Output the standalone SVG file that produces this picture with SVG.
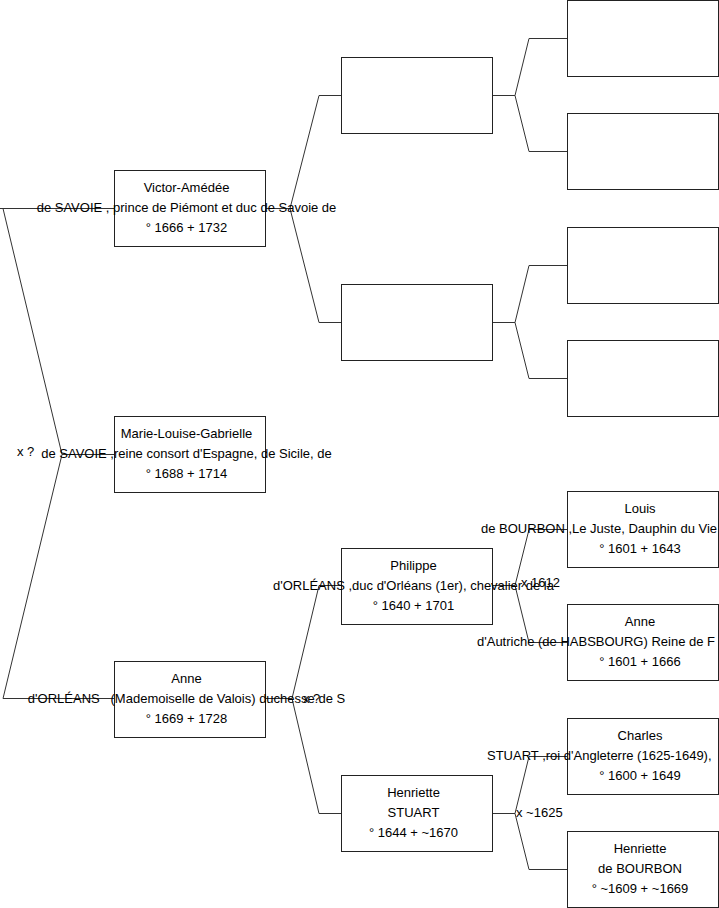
<svg xmlns="http://www.w3.org/2000/svg" width="719" height="908" viewBox="0 0 719 908">
<style>
.bg{fill:#fff}
.box{fill:#fff;stroke:#222;stroke-width:1}
.c{fill:none;stroke:#333;stroke-width:1}
text{font-family:"Liberation Sans",Arial,sans-serif;font-size:13px;fill:#000}
.m{text-anchor:middle}
</style>
<rect class="bg" x="0" y="0" width="719" height="908"/>
<g id="connectors">
<path class="c" d="M0,208.5 H114 M3,208.5 L62,454.5 H114 M62,454.5 L3,698.5 H114"/>
<path class="c" d="M265,208.5 H290 L319,95.5 H341 M290,208.5 L319,322.5 H341"/>
<path class="c" d="M492,95.5 H515 L529,38.5 H567 M515,95.5 L529,151.5 H567"/>
<path class="c" d="M492,322.5 H515 L529,265.5 H567 M515,322.5 L529,378.5 H567"/>
<path class="c" d="M265,698.5 H292 L319,585.5 H341 M292,698.5 L319,813.5 H341"/>
<path class="c" d="M492,585.5 H515 L529,529.5 H567 M515,585.5 L529,642.5 H567"/>
<path class="c" d="M492,813.5 H515 L529,756.5 H567 M515,813.5 L529,869.5 H567"/>
<text x="17" y="456">x ?</text>
<text x="303" y="702.5">x ?</text>
<text x="521" y="587">x 1612</text>
<text x="516" y="816.5">x ~1625</text>
</g>
<g id="n-victor">
<rect class="box" x="114.5" y="170.5" width="151" height="76"/>
<text class="m" x="186.5" y="191.5">Victor-Amédée</text>
<text class="m" x="186.5" y="211.5">de SAVOIE , prince de Piémont et duc de Savoie de</text>
<text class="m" x="186.5" y="231.5">° 1666 + 1732</text>
</g>
<g id="n-marie-louise">
<rect class="box" x="114.5" y="416.5" width="151" height="76"/>
<text class="m" x="186.5" y="437.5">Marie-Louise-Gabrielle</text>
<text class="m" x="186.5" y="457.5">de SAVOIE ,reine consort d'Espagne, de Sicile, de</text>
<text class="m" x="186.5" y="477.5">° 1688 + 1714</text>
</g>
<g id="n-anne">
<rect class="box" x="114.5" y="661.5" width="151" height="76"/>
<text class="m" x="186.5" y="682.5">Anne</text>
<text class="m" x="186.5" y="702.5" xml:space="preserve">d'ORLÉANS   (Mademoiselle de Valois) duchesse de S</text>
<text class="m" x="186.5" y="722.5">° 1669 + 1728</text>
</g>
<g id="n-g2a">
<rect class="box" x="341.5" y="57.5" width="151" height="76"/>
</g>
<g id="n-g2b">
<rect class="box" x="341.5" y="284.5" width="151" height="76"/>
</g>
<g id="n-philippe">
<rect class="box" x="341.5" y="548.5" width="151" height="76"/>
<text class="m" x="413.5" y="569.5">Philippe</text>
<text class="m" x="413.5" y="589.5">d'ORLÉANS ,duc d'Orléans (1er), chevalier de la</text>
<text class="m" x="413.5" y="609.5">° 1640 + 1701</text>
</g>
<g id="n-henriette-stuart">
<rect class="box" x="341.5" y="775.5" width="151" height="76"/>
<text class="m" x="413.5" y="796.5">Henriette</text>
<text class="m" x="413.5" y="816.5">STUART</text>
<text class="m" x="413.5" y="836.5">° 1644 + ~1670</text>
</g>
<g id="n-g3a"><rect class="box" x="567.5" y="0.5" width="151" height="76"/></g>
<g id="n-g3b"><rect class="box" x="567.5" y="113.5" width="151" height="76"/></g>
<g id="n-g3c"><rect class="box" x="567.5" y="227.5" width="151" height="76"/></g>
<g id="n-g3d"><rect class="box" x="567.5" y="340.5" width="151" height="76"/></g>
<g id="n-louis">
<rect class="box" x="567.5" y="491.5" width="151" height="76"/>
<text class="m" x="640" y="512.5">Louis</text>
<text x="481" y="532.5">de BOURBON ,Le Juste, Dauphin du Vie</text>
<text class="m" x="640" y="552.5">° 1601 + 1643</text>
</g>
<g id="n-anne-autriche">
<rect class="box" x="567.5" y="604.5" width="151" height="76"/>
<text class="m" x="640" y="625.5">Anne</text>
<text x="477" y="645.5">d'Autriche (de HABSBOURG) Reine de F</text>
<text class="m" x="640" y="665.5">° 1601 + 1666</text>
</g>
<g id="n-charles">
<rect class="box" x="567.5" y="718.5" width="151" height="76"/>
<text class="m" x="640" y="739.5">Charles</text>
<text x="487" y="759.5">STUART ,roi d'Angleterre (1625-1649),</text>
<text class="m" x="640" y="779.5">° 1600 + 1649</text>
</g>
<g id="n-henriette-bourbon">
<rect class="box" x="567.5" y="831.5" width="151" height="76"/>
<text class="m" x="640" y="852.5">Henriette</text>
<text class="m" x="640" y="872.5">de BOURBON</text>
<text class="m" x="640" y="892.5">° ~1609 + ~1669</text>
</g>
</svg>
